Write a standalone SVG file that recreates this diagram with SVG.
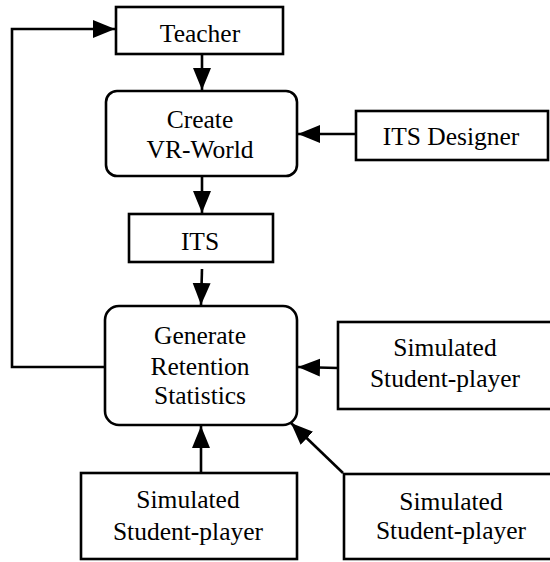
<svg xmlns="http://www.w3.org/2000/svg" width="550" height="562" viewBox="0 0 550 562">
<style>
.box{fill:#fff;stroke:#000;stroke-width:2.6}
.t{font-family:"Liberation Serif","Times New Roman",serif;font-size:25.5px;text-anchor:middle;fill:#000}
.c{fill:none;stroke:#000;stroke-width:2.6}
</style>
<defs>
<marker id="ah" markerUnits="userSpaceOnUse" markerWidth="24" markerHeight="20" refX="22" refY="9" orient="auto">
<path d="M0,0 L22,9 L0,18 z" fill="#000"/>
</marker>
</defs>
<rect width="550" height="562" fill="#fff"/>
<g id="connectors">
<path class="c" d="M202,54 L202,90" marker-end="url(#ah)"/>
<path class="c" d="M356,134 L298,134" marker-end="url(#ah)"/>
<path class="c" d="M202,176 L202,213" marker-end="url(#ah)"/>
<path class="c" d="M202,269 L201,305" marker-end="url(#ah)"/>
<path class="c" d="M105,367 L12,367 L12,29 L115,29" marker-end="url(#ah)"/>
<path class="c" d="M338,368 L298,367" marker-end="url(#ah)"/>
<path class="c" d="M343,473 L291,423" marker-end="url(#ah)"/>
<path class="c" d="M201,473 L201,426" marker-end="url(#ah)"/>
</g>
<g id="teacher">
<rect class="box" x="116" y="7" width="167" height="47"/>
<text class="t" x="200" y="42">Teacher</text>
</g>
<g id="create">
<rect class="box" x="106" y="91" width="191" height="85" rx="11"/>
<text class="t" x="200" y="128">Create</text>
<text class="t" x="200" y="158">VR-World</text>
</g>
<g id="designer">
<rect class="box" x="356" y="111" width="192" height="49"/>
<text class="t" x="451" y="145">ITS Designer</text>
</g>
<g id="its">
<rect class="box" x="129" y="214" width="144" height="48"/>
<text class="t" x="200" y="250">ITS</text>
</g>
<g id="generate">
<rect class="box" x="105" y="306" width="192" height="119" rx="14"/>
<text class="t" x="200" y="344">Generate</text>
<text class="t" x="200" y="375">Retention</text>
<text class="t" x="200" y="404">Statistics</text>
</g>
<g id="sim-right">
<rect class="box" x="338" y="322" width="215" height="87"/>
<text class="t" x="445" y="356">Simulated</text>
<text class="t" x="445" y="387">Student-player</text>
</g>
<g id="sim-bottom-left">
<rect class="box" x="81" y="473" width="216" height="86"/>
<text class="t" x="188" y="508">Simulated</text>
<text class="t" x="188" y="540">Student-player</text>
</g>
<g id="sim-bottom-right">
<rect class="box" x="344" y="474" width="209" height="85"/>
<text class="t" x="451" y="510">Simulated</text>
<text class="t" x="451" y="539">Student-player</text>
</g>
</svg>
